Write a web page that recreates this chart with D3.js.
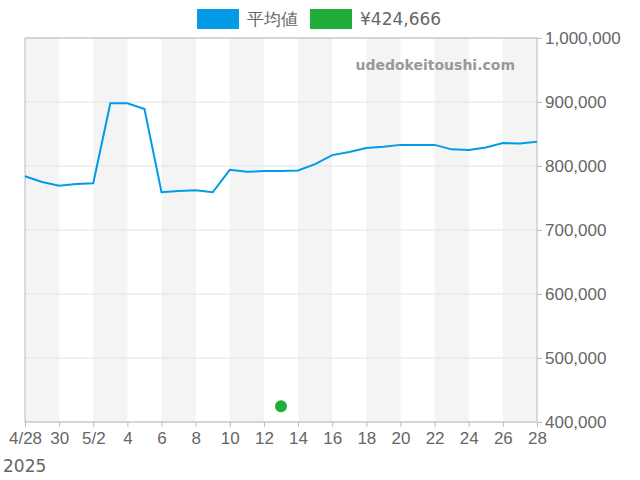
<!DOCTYPE html>
<html><head><meta charset="utf-8">
<script src="https://cdn.jsdelivr.net/npm/d3@7"></script>
<style>body{margin:0;background:#fff;font-family:"DejaVu Sans",sans-serif}</style>
</head><body><svg id="c" width="640" height="480"></svg>
<script>
const days = ["2025-04-28","2025-04-29","2025-04-30","2025-05-01","2025-05-02","2025-05-03","2025-05-04","2025-05-05","2025-05-06","2025-05-07","2025-05-08","2025-05-09","2025-05-10","2025-05-11","2025-05-12","2025-05-13","2025-05-14","2025-05-15","2025-05-16","2025-05-17","2025-05-18","2025-05-19","2025-05-20","2025-05-21","2025-05-22","2025-05-23","2025-05-24","2025-05-25","2025-05-26","2025-05-27","2025-05-28"];
const avg = [784000,775000,769000,772000,773000,898000,898000,889000,759000,761000,762000,759000,794000,791000,792000,792000,793000,803000,817000,822000,828000,830000,833000,833000,833000,826000,825000,829000,836000,835000,838000];
const pointDate = ["2025-05-13"];
const pointVal = [424666];
const yTicks = [400000,500000,600000,700000,800000,900000,1000000];
const xLabels = ["4/28","30","5/2","4","6","8","10","12","14","16","18","20","22","24","26","28"];
const legendNames = ["平均値","¥424,666"];
const colors = ["#039be5","#21ad3a"];

const p = d3.timeParse("%Y-%m-%d");
const svg = d3.select("#c");
const L=25,R=537,T=38,B=422;
const x = d3.scaleTime().domain([p(days[0]),p(days[days.length-1])]).range([L,R]);
const y = d3.scaleLinear().domain([400000,1000000]).range([B,T]);
for(let i=0;i<days.length-1;i+=4){
  const a=x(p(days[i])), b=x(p(days[Math.min(i+2,days.length-1)]));
  svg.append("rect").attr("x",a).attr("y",T).attr("width",b-a).attr("height",B-T).attr("fill","#f4f4f4");
}
yTicks.forEach(t=>svg.append("line").attr("x1",L).attr("x2",R).attr("y1",y(t)).attr("y2",y(t)).attr("stroke","#e2e2e2"));
svg.append("rect").attr("x",L).attr("y",T).attr("width",R-L).attr("height",B-T).attr("fill","none").attr("stroke","#bbb");
const ya = d3.axisRight(y).tickValues(yTicks).tickFormat(d3.format(",")).tickSize(5);
const gy = svg.append("g").attr("transform",`translate(${R},0)`).call(ya);
gy.select(".domain").remove();
gy.selectAll("line").attr("stroke","#bbb");
gy.selectAll("text").attr("font-size",17).attr("fill","#666").attr("x",8);
const xt = days.filter((d,i)=>i%2==0).map(p);
const xa = d3.axisBottom(x).tickValues(xt).tickFormat((d,i)=>xLabels[i]).tickSize(5);
const gx = svg.append("g").attr("transform",`translate(0,${B})`).call(xa);
gx.select(".domain").remove();
gx.selectAll("line").attr("stroke","#bbb");
gx.selectAll("text").attr("font-size",17).attr("fill","#666").attr("dy","0.85em");
svg.append("text").attr("x",3).attr("y",472).attr("font-size",17).attr("fill","#666").text("2025");
svg.append("path").datum(days.map((d,i)=>[p(d),avg[i]])).attr("fill","none").attr("stroke",colors[0]).attr("stroke-width",2)
  .attr("d",d3.line().x(d=>x(d[0])).y(d=>y(d[1])));
svg.selectAll(".pt").data(pointDate).enter().append("circle").attr("cx",d=>x(p(d))).attr("cy",(d,i)=>y(pointVal[i])).attr("r",6).attr("fill",colors[1]);
svg.append("text").attr("x",515).attr("y",70).attr("text-anchor","end").attr("font-size",14).attr("font-weight","bold").attr("fill","#999").text("udedokeitoushi.com");
const lx=[197,310];
legendNames.forEach((n,i)=>{
  svg.append("rect").attr("x",lx[i]).attr("y",9).attr("width",42).attr("height",20).attr("fill",colors[i]);
  svg.append("text").attr("x",lx[i]+50).attr("y",25).attr("font-size",17).attr("fill","#666").text(n);
});
</script></body></html>
